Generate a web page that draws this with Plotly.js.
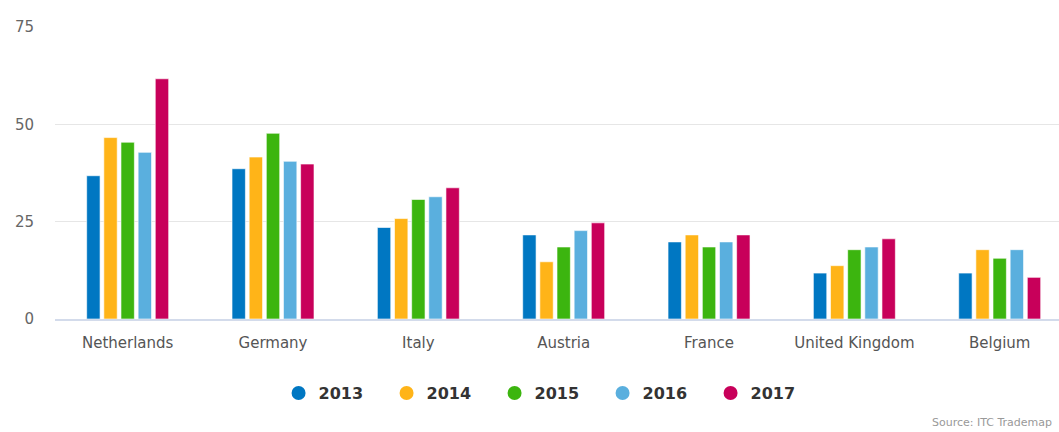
<!DOCTYPE html>
<html>
<head>
<meta charset="utf-8">
<script src="https://cdn.plot.ly/plotly-3.0.1.min.js"></script>
<style>html,body{margin:0;padding:0;background:#fff;}#chart{width:1059px;height:432px;}</style>
</head>
<body>
<div id="chart"></div>
<script>
const categories = ["Netherlands", "Germany", "Italy", "Austria", "France", "United Kingdom", "Belgium"];
const years = ["2013", "2014", "2015", "2016", "2017"];
const v2013 = [36.8, 38.6, 23.5, 21.6, 19.8, 11.8, 11.8];
const v2014 = [46.6, 41.6, 25.8, 14.7, 21.6, 13.7, 17.8];
const v2015 = [45.4, 47.7, 30.7, 18.5, 18.5, 17.8, 15.6];
const v2016 = [42.8, 40.5, 31.4, 22.7, 19.8, 18.5, 17.8];
const v2017 = [61.7, 39.8, 33.7, 24.7, 21.6, 20.6, 10.7];
const colors = ["#0077c2", "#ffb418", "#3cb50f", "#5aafde", "#c8005a"];
const yTicks = [0, 25, 50, 75];

const seriesValues = [v2013, v2014, v2015, v2016, v2017];
const traces = [];
seriesValues.forEach((vals, i) => {
  traces.push({
    type: "bar", name: years[i], x: categories, y: vals,
    marker: {color: colors[i], line: {color: "rgba(255,255,255,0.6)", width: 1}},
    showlegend: false, hoverinfo: "x+y+name"
  });
});
years.forEach((yr, i) => {
  traces.push({
    type: "scatter", mode: "markers", name: yr, x: [categories[0]], y: [null],
    marker: {color: colors[i], size: 14, symbol: "circle"},
    showlegend: true, hoverinfo: "skip"
  });
});

const layout = {
  width: 1059, height: 432,
  margin: {l: 55, r: 0, t: 27, b: 113},
  paper_bgcolor: "#ffffff", plot_bgcolor: "#ffffff",
  barmode: "group", bargap: 0.41, bargroupgap: 0.22,
  font: {family: "DejaVu Sans, Verdana, sans-serif", color: "#666666", size: 15},
  xaxis: {
    type: "category", range: [-0.5, 6.408],
    showgrid: false, zeroline: false,
    showline: true, linecolor: "#d3dbeb", linewidth: 2,
    ticks: "", ticklabelstandoff: 9,
    tickfont: {size: 15, color: "#555555"}, fixedrange: true
  },
  yaxis: {
    range: [0, 75], tickvals: yTicks, ticktext: yTicks.map(String),
    showgrid: true, gridcolor: "#e6e6e6", gridwidth: 1,
    zeroline: false, showline: false, ticks: "",
    ticklabelstandoff: 20,
    tickfont: {size: 15, color: "#666666"}, fixedrange: true
  },
  showlegend: true,
  legend: {
    orientation: "h", xref: "container", yref: "container",
    x: 0.518, xanchor: "center", y: 0.09, yanchor: "middle",
    font: {size: 16, color: "#333333", family: "DejaVu Sans, Verdana, sans-serif", weight: "bold"},
    entrywidth: 63, entrywidthmode: "pixels",
    bgcolor: "rgba(0,0,0,0)"
  },
  annotations: [{
    text: "Source: ITC Trademap", xref: "paper", yref: "paper",
    x: (930 - 55) / 1004, y: -0.355, xanchor: "left", yanchor: "middle",
    showarrow: false, font: {size: 11, color: "#999999"}
  }]
};

Plotly.newPlot("chart", traces, layout, {displayModeBar: false, staticPlot: true});
</script>
</body>
</html>
